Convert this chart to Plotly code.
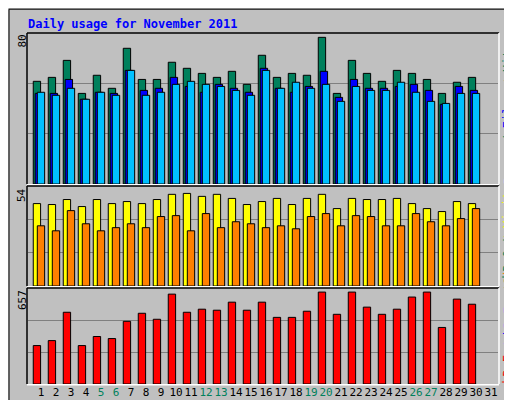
import plotly.graph_objects as go

days = list(range(1, 31))
hits = [54.4, 56.5, 65.5, 48, 57.6, 50.7, 71.9, 55.4, 55.4, 64.5, 61.3, 58.6, 56.5, 59.7, 52.8,
        68.2, 56.5, 58.6, 57.6, 77.7, 48, 65.5, 58.6, 54.4, 60.2, 58.6, 55.4, 48, 53.9, 56.5]
files = [48, 48, 55.4, 44.9, 48.6, 48, 60.2, 49.6, 50.7, 56.5, 51.7, 48.6, 52.8, 50.7, 48.6,
         61.3, 50.7, 48.6, 51.7, 59.7, 45.9, 55.4, 50.7, 50.7, 51.7, 52.8, 49.6, 42.2, 51.7, 49.6]
pages = [48.6, 47, 50.7, 44.9, 48.6, 47, 60.2, 47, 48.6, 52.8, 54.4, 52.8, 51.7, 49.6, 47,
         60.2, 50.7, 53.9, 50.7, 52.8, 43.8, 51.7, 49.6, 49.6, 53.9, 48.6, 43.8, 42.7, 48, 48]
visits = [44.5, 44, 46.7, 42.9, 46.7, 44.5, 45.6, 44.5, 46.7, 49.5, 50, 48.4, 49.5, 47.3, 44,
          45.6, 47.3, 44, 47.3, 49.5, 41.8, 47.3, 46.7, 46.7, 47.3, 44.5, 41.8, 40.2, 45.6, 44.5]
sites = [32.5, 29.8, 40.7, 33.6, 29.8, 31.5, 33.6, 31.5, 37.5, 38, 29.8, 39.1, 31.5, 34.7, 33.6,
         31.5, 32.5, 30.9, 37.5, 39.1, 32.5, 38, 37.5, 32.5, 32.5, 39.1, 34.7, 32.5, 36.4, 41.8]
kbytes = [263, 297, 491, 263, 325, 311, 429, 484, 443, 615, 491, 512, 505, 560, 505,
          560, 456, 456, 498, 629, 477, 629, 526, 477, 512, 595, 629, 387, 581, 546]
tick_days = list(range(1, 32))
weekend = {5, 6, 12, 13, 19, 20, 26, 27}
max_hits, max_visits, max_kb = 80, 54, 657

W = 0.49
fig = go.Figure()

def bar(x, y, color, offset, xa, ya):
    fig.add_trace(go.Bar(x=x, y=y, marker=dict(color=color, line=dict(color="black", width=1)),
                         width=W, offset=offset, xaxis=xa, yaxis=ya, showlegend=False,
                         hoverinfo="skip"))

bar(days, hits, "#00805C", -0.65, "x", "y")
bar(days, files, "#0000FF", -0.52, "x", "y")
bar(days, pages, "#00C0FF", -0.38, "x", "y")
bar(days, visits, "#FFFF00", -0.65, "x2", "y2")
bar(days, sites, "#FF8000", -0.38, "x2", "y2")
bar(days, kbytes, "#FF0000", -0.65, "x3", "y3")

xr = [0, 31.33]
dom_top, dom_mid, dom_bot = [0.56, 0.9375], [0.305, 0.555], [0.06, 0.3]
common_x = dict(range=xr, domain=[20/512, 490/512], showgrid=False, zeroline=False, fixedrange=True)
ticktext = [f'<span style="color:{"#00805C" if d in weekend else "black"}">{d}</span>' for d in tick_days]
fig.update_layout(
    width=512, height=400, margin=dict(l=0, r=0, t=0, b=0),
    paper_bgcolor="#C0C0C0", plot_bgcolor="#C0C0C0", barmode="overlay",
    font=dict(family="DejaVu Sans Mono", size=11, color="black"),
    xaxis=dict(**common_x, anchor="y", showticklabels=False),
    xaxis2=dict(**common_x, anchor="y2", showticklabels=False),
    xaxis3=dict(**common_x, anchor="y3", tickvals=[d - 0.13 for d in tick_days], ticktext=ticktext,
                ticks="", tickangle=0, tickfont=dict(size=11, family="DejaVu Sans Mono")),
    yaxis=dict(domain=dom_top, range=[0, max_hits], tickvals=[max_hits/3, 2*max_hits/3],
               showticklabels=False, gridcolor="#808080", zeroline=False, fixedrange=True),
    yaxis2=dict(domain=dom_mid, range=[0, max_visits], tickvals=[max_visits/3, 2*max_visits/3],
                showticklabels=False, gridcolor="#808080", zeroline=False, fixedrange=True),
    yaxis3=dict(domain=dom_bot, range=[0, max_kb], tickvals=[max_kb/3, 2*max_kb/3],
                showticklabels=False, gridcolor="#808080", zeroline=False, fixedrange=True),
)

shapes = [dict(type="rect", xref="paper", yref="paper", x0=0.002, x1=0.998, y0=0.003, y1=0.997,
               line=dict(color="black", width=1))]
for dom in (dom_top, dom_mid, dom_bot):
    x0, x1 = 19/512, 491/512
    shapes.append(dict(type="line", xref="paper", yref="paper", x0=x0, x1=x0, y0=dom[0], y1=dom[1],
                       line=dict(color="black", width=1.5)))
    shapes.append(dict(type="line", xref="paper", yref="paper", x0=x0, x1=x1, y0=dom[1], y1=dom[1],
                       line=dict(color="black", width=1.5)))
    shapes.append(dict(type="line", xref="paper", yref="paper", x0=x1, x1=x1, y0=dom[0], y1=dom[1],
                       line=dict(color="white", width=1.5)))
    shapes.append(dict(type="line", xref="paper", yref="paper", x0=x0, x1=x1, y0=dom[0] - 0.002, y1=dom[0] - 0.002,
                       line=dict(color="white", width=1.5)))
fig.update_layout(shapes=shapes)

ann = [dict(text="<b>Daily usage for November 2011</b>", x=18/512, y=1 - 16/400, xref="paper", yref="paper",
            xanchor="left", yanchor="middle", showarrow=False, font=dict(color="#0000FF", size=12))]
for lbl, dom in ((str(max_hits), dom_top), (str(max_visits), dom_mid), (str(max_kb), dom_bot)):
    ann.append(dict(text=lbl, x=14/512, y=dom[1], xref="paper", yref="paper", textangle=-90,
                    xanchor="center", yanchor="top", showarrow=False, font=dict(size=11)))

# right-side vertical legends: segments drawn bottom-to-top, starting at pixel y
CH = 7.0  # pixel per character
right = [
    (176, [("Pages", "#00C0FF"), (" / ", "#00805C"), ("Files", "#0000FF"), (" / ", "#00805C"), ("Hits", "#00805C")]),
    (276, [("Sites", "#FF8000"), (" / ", "#FFFF00"), ("Visits", "#FFFF00")]),
    (376, [("kB F", "#FF0000"), (" / ", "#0000FF"), ("kB In", "#0000FF"), (" / ", "#00805C"), ("kB Out", "#00805C")]),
]
for ybot, segs in right:
    y = ybot
    for txt, col in segs:
        h = len(txt) * CH
        ann.append(dict(text=txt.replace(" ", "&nbsp;"), x=500/512, y=1 - (y - h/2)/400,
                        xref="paper", yref="paper", textangle=-90, xanchor="center", yanchor="middle",
                        showarrow=False, font=dict(size=12, color=col)))
        y -= h
fig.update_layout(annotations=ann)

fig.write_html("out.html")
